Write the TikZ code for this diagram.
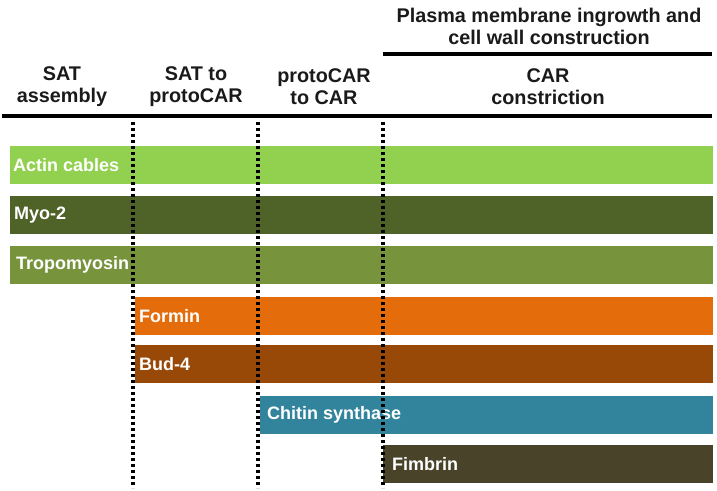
\documentclass[tikz,border=0pt]{standalone}
\usepackage{fontspec}
\setmainfont{Liberation Sans}

\begin{document}
\begin{tikzpicture}[x=1pt, y=-1pt]
    % Define colours
    \definecolor{actinColour}{HTML}{92D050}
    \definecolor{myoColour}{HTML}{4F6228}
    \definecolor{tropoColour}{HTML}{77933C}
    \definecolor{forminColour}{HTML}{E46C0A}
    \definecolor{budColour}{HTML}{984807}
    \definecolor{chitinColour}{HTML}{31849B}
    \definecolor{fimbrinColour}{HTML}{494429}
    \definecolor{headColour}{HTML}{1A1A1A}

    % Styles
    \tikzset{
        head/.style={align=center, inner sep=0pt, text=headColour,
            font=\fontsize{19.8}{22}\selectfont\bfseries},
        barlabel/.style={anchor=west, inner sep=0pt, text=white,
            font=\fontsize{18}{20}\selectfont\bfseries},
        rule/.style={line width=3.4pt},
        stage/.style={line width=3.6pt, dash pattern=on 3.2pt off 2.8pt}
    }

    % Fix the picture size
    \useasboundingbox (0,0) rectangle (717,490);

    % Define bar end
    \def\barEnd{713}

    % Draw header texts
    \node[head] (wall) at (549,26) {Plasma membrane ingrowth and\\cell wall construction};
    \node[head] (sat) at (62,87) {SAT\\assembly};
    \node[head] (proto) at (196,87) {SAT to\\protoCAR};
    \node[head] (car) at (324,87) {protoCAR\\to CAR};
    \node[head] (constr) at (548,87) {CAR\\constriction};

    % Draw header rules
    \draw[rule] (383,54) -- (712,54);
    \draw[rule] (2,116) -- (712,116);

    % Draw the bars
    \fill[actinColour] (10,146) rectangle (\barEnd,184);
    \node[barlabel] (actin) at (13,165) {Actin cables};

    \fill[myoColour] (10,196) rectangle (\barEnd,234);
    \node[barlabel] (myo) at (14,215) {Myo-2};

    \fill[tropoColour] (10,246) rectangle (\barEnd,284);
    \node[barlabel] (tropo) at (16,265) {Tropomyosin};

    \fill[forminColour] (135,297) rectangle (\barEnd,335);
    \node[barlabel] (formin) at (139,316) {Formin};

    \fill[budColour] (135,345) rectangle (\barEnd,383);
    \node[barlabel] (bud) at (139,364) {Bud-4};

    \fill[chitinColour] (260,396) rectangle (\barEnd,434);
    \node[barlabel] (chitin) at (267,415) {Chitin synthase};

    \fill[fimbrinColour] (383,445) rectangle (\barEnd,483);
    \node[barlabel] (fimbrin) at (392,464) {Fimbrin};

    % Draw stage boundaries
    \foreach \x in {133,258,383}
        \draw[stage] (\x,122) -- (\x,488);

\end{tikzpicture}
\end{document}
